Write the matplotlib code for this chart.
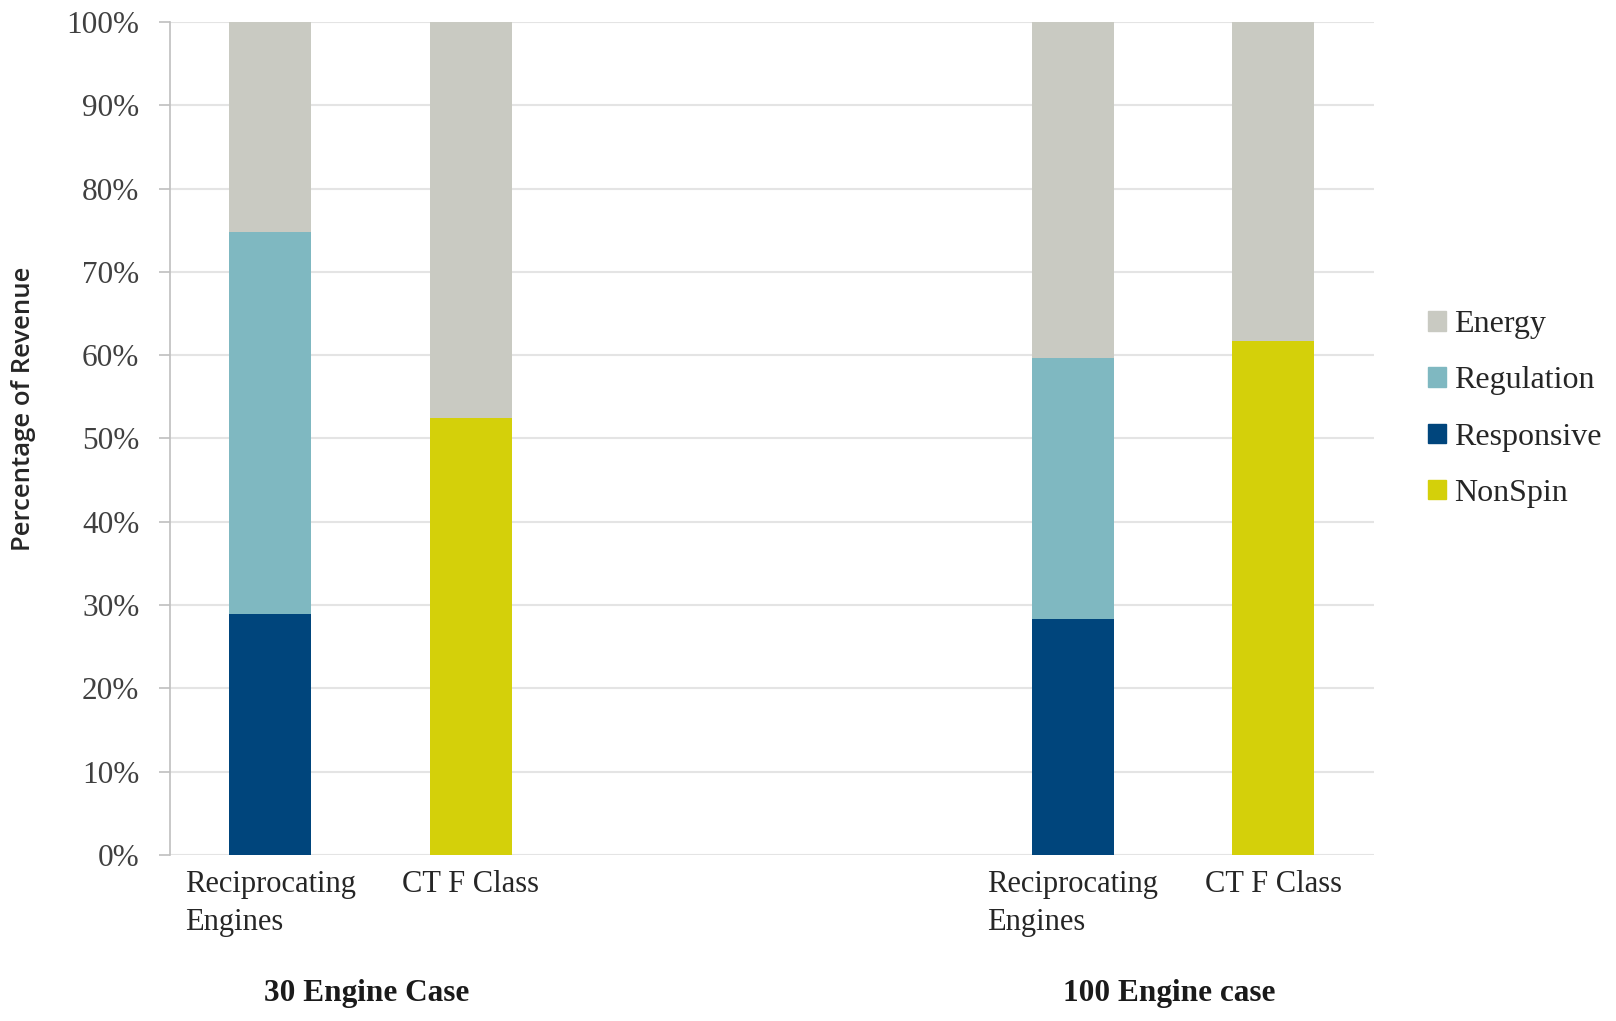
import numpy as np
import matplotlib.pyplot as plt
import matplotlib.transforms as mtransforms
from matplotlib.patches import Patch

# values in percent
positions = [0, 1, 4, 5]
bar_labels = ["Reciprocating\nEngines", "CT F Class", "Reciprocating\nEngines", "CT F Class"]
group_labels = ["30 Engine Case", "100 Engine case"]
group_centers = [0.5, 4.5]

nonspin = [0, 52.4, 0, 61.7]
responsive = [28.9, 0, 28.3, 0]
regulation = [45.9, 0, 31.3, 0]
energy = [25.2, 47.6, 40.4, 38.3]

series = ["NonSpin", "Responsive", "Regulation", "Energy"]
colors = {"NonSpin": "#D4D00A", "Responsive": "#00457C",
          "Regulation": "#7FB8C1", "Energy": "#C9CAC2"}

serif = ["Liberation Serif", "DejaVu Serif"]

fig = plt.figure(figsize=(16.16, 10.21), dpi=100)
ax = fig.add_axes([0.1052, 0.1626, 0.7448, 0.8159])

bottom = np.zeros(len(positions))
for name, vals in zip(series, [nonspin, responsive, regulation, energy]):
    vals = np.array(vals)
    ax.bar(positions, vals, width=0.41, bottom=bottom, color=colors[name], zorder=3)
    bottom += vals

ax.set_xlim(-0.5, 5.5)
ax.set_ylim(0, 100)
ax.set_yticks(np.arange(0, 101, 10))
ax.set_yticklabels([f"{v}%" for v in range(0, 101, 10)], fontfamily=serif,
                   fontsize=22.5, color="#404040")
ax.yaxis.grid(True, color="#E4E4E4", linewidth=1.5, zorder=0)
ax.tick_params(axis="y", length=8, width=1.2, color="#BFBFBF", pad=14)

ax.set_xticks(positions)
ax.set_xticklabels(bar_labels, fontfamily=serif, fontsize=22, color="#262626",
                   linespacing=1.38, multialignment="left")
ax.tick_params(axis="x", length=0, pad=11)

for s in ["top", "right", "bottom"]:
    ax.spines[s].set_visible(False)
ax.spines["left"].set_color("#BFBFBF")
ax.spines["left"].set_linewidth(1.2)

trans = mtransforms.blended_transform_factory(ax.transData, fig.transFigure)
for x, lab in zip(group_centers, group_labels):
    ax.text(x - 0.02, 1 - 993 / 1021, lab, transform=trans, ha="center", va="center",
            fontfamily=serif, fontsize=22.5, fontweight="bold", color="#1a1a1a")

fig.text(24 / 1616, 1 - 409 / 1021, "Percentage of Revenue", rotation=90,
         ha="center", va="center", fontfamily=["Open Sans", "DejaVu Sans"],
         fontsize=18.5, fontweight="semibold", color="#262626")

handles = [Patch(color=colors[n]) for n in ["Energy", "Regulation", "Responsive", "NonSpin"]]
leg = fig.legend(handles, ["Energy", "Regulation", "Responsive", "NonSpin"],
                 loc="center left", bbox_to_anchor=(0.866, 1 - 409 / 1021),
                 frameon=False, prop={"family": serif, "size": 23},
                 handlelength=0.55, handleheight=0.55, handletextpad=0.25,
                 labelspacing=0.85, labelcolor="#262626")

fig.savefig("out.png", dpi=100)
